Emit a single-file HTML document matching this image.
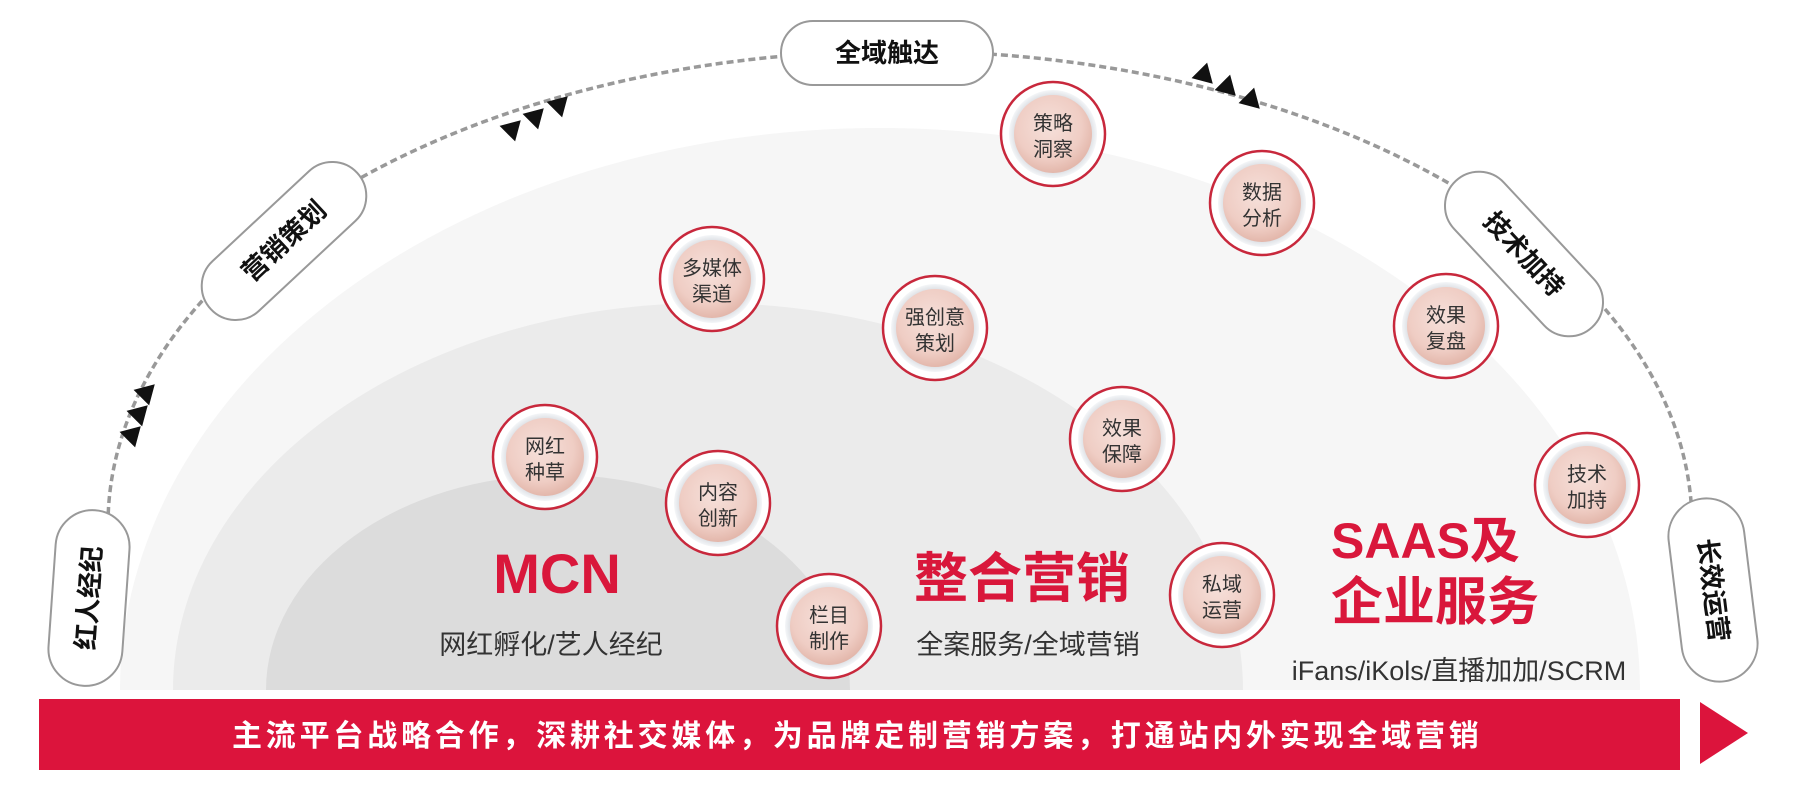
<!DOCTYPE html>
<html><head><meta charset="utf-8"><style>
html,body{margin:0;padding:0;background:#fff;width:1798px;height:805px;overflow:hidden;}
svg{display:block;}
text{font-family:"Liberation Sans","Noto Sans CJK SC",sans-serif;}
</style></head><body>
<svg width="1798" height="805" viewBox="0 0 1798 805" xmlns="http://www.w3.org/2000/svg">
<defs>
<radialGradient id="pk" cx="45%" cy="40%" r="60%">
<stop offset="0" stop-color="#f6e0da"/><stop offset="0.7" stop-color="#efcdc4"/><stop offset="1" stop-color="#e3b7ab"/>
</radialGradient>
<radialGradient id="halo" cx="50%" cy="50%" r="50%">
<stop offset="0.75" stop-color="#c9ccd3"/><stop offset="1" stop-color="#f4f6f8"/>
</radialGradient>
<clipPath id="cl"><rect x="0" y="0" width="1798" height="690"/></clipPath>
<g id="tri"><polygon points="11,0 -8,-11 -8,11" fill="#111"/></g>
</defs>
<g clip-path="url(#cl)">
<ellipse cx="880" cy="690" rx="760" ry="562" fill="#f6f6f6"/>
<ellipse cx="708" cy="690" rx="535" ry="387" fill="#ebebeb"/>
<ellipse cx="558" cy="690" rx="292" ry="215" fill="#dcdcdc"/>
</g>
<path d="M108,525 A792,474 0 0 1 1692,525" fill="none" stroke="#999" stroke-width="3.5" stroke-dasharray="7 4"/>
<use href="#tri" transform="translate(147,392) rotate(-45)"/>
<use href="#tri" transform="translate(140,413) rotate(-45)"/>
<use href="#tri" transform="translate(133,434) rotate(-45)"/>
<use href="#tri" transform="translate(513,128) rotate(-45)"/>
<use href="#tri" transform="translate(536,116) rotate(-45)"/>
<use href="#tri" transform="translate(560,104) rotate(-45)"/>
<use href="#tri" transform="translate(1205,76) rotate(45)"/>
<use href="#tri" transform="translate(1228,88) rotate(45)"/>
<use href="#tri" transform="translate(1252,101) rotate(45)"/>
<g font-weight="bold" font-size="26" fill="#111" text-anchor="middle">
<g transform="translate(887,53)"><rect x="-106" y="-32" width="212" height="64" rx="32" fill="#fff" stroke="#999" stroke-width="2"/><text y="9">全域触达</text></g>
<g transform="translate(284,241) rotate(-43)"><rect x="-100" y="-34" width="200" height="68" rx="34" fill="#fff" stroke="#999" stroke-width="2"/><text y="9">营销策划</text></g>
<g transform="translate(89,598) rotate(-86)"><rect x="-88" y="-37" width="176" height="74" rx="37" fill="#fff" stroke="#999" stroke-width="2"/><text y="9">红人经纪</text></g>
<g transform="translate(1524,254) rotate(47)"><rect x="-100" y="-34" width="200" height="68" rx="34" fill="#fff" stroke="#999" stroke-width="2"/><text y="9">技术加持</text></g>
<g transform="translate(1713,590) rotate(83)"><rect x="-92" y="-38" width="184" height="76" rx="38" fill="#fff" stroke="#999" stroke-width="2"/><text y="9">长效运营</text></g>
</g>
<g font-size="20" fill="#333" text-anchor="middle">
<g transform="translate(545,457)"><circle r="52" fill="#fff" stroke="#c8283c" stroke-width="2.5"/><circle r="44" fill="url(#halo)"/><circle r="39" fill="url(#pk)"/><text y="-4">网红</text><text y="22">种草</text></g>
<g transform="translate(718,503)"><circle r="52" fill="#fff" stroke="#c8283c" stroke-width="2.5"/><circle r="44" fill="url(#halo)"/><circle r="39" fill="url(#pk)"/><text y="-4">内容</text><text y="22">创新</text></g>
<g transform="translate(829,626)"><circle r="52" fill="#fff" stroke="#c8283c" stroke-width="2.5"/><circle r="44" fill="url(#halo)"/><circle r="39" fill="url(#pk)"/><text y="-4">栏目</text><text y="22">制作</text></g>
<g transform="translate(712,279)"><circle r="52" fill="#fff" stroke="#c8283c" stroke-width="2.5"/><circle r="44" fill="url(#halo)"/><circle r="39" fill="url(#pk)"/><text y="-4">多媒体</text><text y="22">渠道</text></g>
<g transform="translate(935,328)"><circle r="52" fill="#fff" stroke="#c8283c" stroke-width="2.5"/><circle r="44" fill="url(#halo)"/><circle r="39" fill="url(#pk)"/><text y="-4">强创意</text><text y="22">策划</text></g>
<g transform="translate(1053,134)"><circle r="52" fill="#fff" stroke="#c8283c" stroke-width="2.5"/><circle r="44" fill="url(#halo)"/><circle r="39" fill="url(#pk)"/><text y="-4">策略</text><text y="22">洞察</text></g>
<g transform="translate(1262,203)"><circle r="52" fill="#fff" stroke="#c8283c" stroke-width="2.5"/><circle r="44" fill="url(#halo)"/><circle r="39" fill="url(#pk)"/><text y="-4">数据</text><text y="22">分析</text></g>
<g transform="translate(1446,326)"><circle r="52" fill="#fff" stroke="#c8283c" stroke-width="2.5"/><circle r="44" fill="url(#halo)"/><circle r="39" fill="url(#pk)"/><text y="-4">效果</text><text y="22">复盘</text></g>
<g transform="translate(1122,439)"><circle r="52" fill="#fff" stroke="#c8283c" stroke-width="2.5"/><circle r="44" fill="url(#halo)"/><circle r="39" fill="url(#pk)"/><text y="-4">效果</text><text y="22">保障</text></g>
<g transform="translate(1222,595)"><circle r="52" fill="#fff" stroke="#c8283c" stroke-width="2.5"/><circle r="44" fill="url(#halo)"/><circle r="39" fill="url(#pk)"/><text y="-4">私域</text><text y="22">运营</text></g>
<g transform="translate(1587,485)"><circle r="52" fill="#fff" stroke="#c8283c" stroke-width="2.5"/><circle r="44" fill="url(#halo)"/><circle r="39" fill="url(#pk)"/><text y="-4">技术</text><text y="22">加持</text></g>
</g>
<g fill="#d9173b" font-weight="bold" text-anchor="middle">
<text x="557" y="593" font-size="56">MCN</text>
<text x="1022" y="597" font-size="54">整合营销</text>
<text x="1331" y="558" font-size="50" text-anchor="start">SAAS及</text>
<text x="1331" y="620" font-size="52" text-anchor="start">企业服务</text>
</g>
<g fill="#333" font-size="27" text-anchor="middle">
<text x="551" y="654">网红孵化/艺人经纪</text>
<text x="1028" y="654">全案服务/全域营销</text>
<text x="1459" y="680">iFans/iKols/直播加加/SCRM</text>
</g>
<rect x="39" y="699" width="1641" height="71" fill="#dc143c"/>
<polygon points="1700,702 1748,733 1700,764" fill="#dc143c"/>
<text x="232" y="746" font-size="30" font-weight="bold" fill="#fff" letter-spacing="3.8">主流平台战略合作，深耕社交媒体，为品牌定制营销方案，打通站内外实现全域营销</text>
</svg>
</body></html>
